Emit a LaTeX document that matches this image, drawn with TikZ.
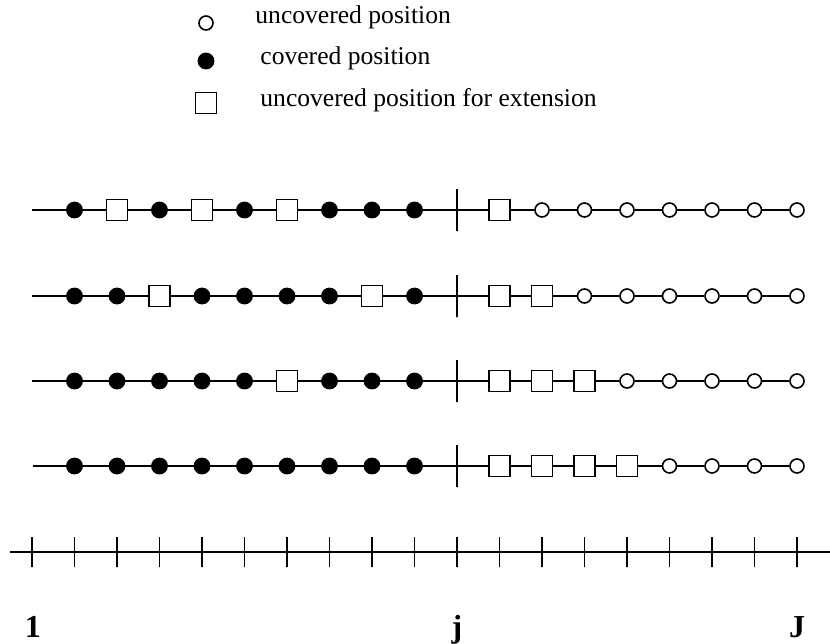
\documentclass[tikz,border=0pt]{standalone}
\usepackage{fontspec}
\setmainfont{Liberation Serif}
\usepackage{tikz}

\begin{document}
\begin{tikzpicture}[x=0.5pt,y=-0.5pt]
        \tikzset{covered/.style = {shape=circle,draw,fill=black,inner sep=0pt,minimum size=8pt}}
        \tikzset{uncovered/.style = {shape=circle,draw,fill=white,line width=0.8pt,inner sep=0pt,minimum size=7pt}}
        \tikzset{extension/.style = {shape=rectangle,draw,fill=white,line width=0.8pt,inner sep=0pt,minimum size=10.5pt}}
        \tikzset{bar/.style = {shape=rectangle,draw,line width=0.9pt,inner sep=0pt,minimum width=0pt,minimum height=21pt}}
        \tikzset{tick/.style = {bar,minimum height=15pt}}
        \tikzset{edge/.style = {line width=0.9pt}}
        \tikzset{legend/.style = {anchor=base west,inner sep=0pt,font=\fontsize{12.8}{15}\selectfont}}
        \tikzset{index/.style = {anchor=base,inner sep=0pt,font=\fontsize{16}{18}\selectfont\bfseries}}
        \useasboundingbox (0,0) rectangle (830,643);
        % legend
        \node[uncovered] (lu) at (206,23) {};
        \node[covered] (lc) at (206,61) {};
        \node[extension] (le) at (206,103) {};
        \node[legend] (lutext) at (255,23) {uncovered position};
        \node[legend] (lctext) at (260,64) {covered position};
        \node[legend] (letext) at (260,106) {uncovered position for extension};
        % row 1
        \coordinate (a0) at (32,210);
        \foreach \t [count=\k] in {covered,extension,covered,extension,covered,extension,covered,covered,covered}
            \node[\t] (a\k) at ({32+42.5*\k},210) {};
        \node[bar] (a10) at (457,210) {};
        \foreach \t [count=\k from 11] in {extension,uncovered,uncovered,uncovered,uncovered,uncovered,uncovered,uncovered}
            \node[\t] (a\k) at ({32+42.5*\k},210) {};
        % row 2
        \coordinate (b0) at (32,296);
        \foreach \t [count=\k] in {covered,covered,extension,covered,covered,covered,covered,extension,covered}
            \node[\t] (b\k) at ({32+42.5*\k},296) {};
        \node[bar] (b10) at (457,296) {};
        \foreach \t [count=\k from 11] in {extension,extension,uncovered,uncovered,uncovered,uncovered,uncovered,uncovered}
            \node[\t] (b\k) at ({32+42.5*\k},296) {};
        % row 3
        \coordinate (c0) at (32,381);
        \foreach \t [count=\k] in {covered,covered,covered,covered,covered,extension,covered,covered,covered}
            \node[\t] (c\k) at ({32+42.5*\k},381) {};
        \node[bar] (c10) at (457,381) {};
        \foreach \t [count=\k from 11] in {extension,extension,extension,uncovered,uncovered,uncovered,uncovered,uncovered}
            \node[\t] (c\k) at ({32+42.5*\k},381) {};
        % row 4
        \coordinate (d0) at (33,466);
        \foreach \t [count=\k] in {covered,covered,covered,covered,covered,covered,covered,covered,covered}
            \node[\t] (d\k) at ({32+42.5*\k},466) {};
        \node[bar] (d10) at (457,466) {};
        \foreach \t [count=\k from 11] in {extension,extension,extension,extension,uncovered,uncovered,uncovered,uncovered}
            \node[\t] (d\k) at ({32+42.5*\k},466) {};
        %edges
        \foreach \r in {a,b,c,d}
            \foreach \k [remember=\k as \p (initially 0)] in {1,...,18}
                \draw[edge] (\r\p) -- (\r\k);
        % axis
        \coordinate (axl) at (10,552);
        \coordinate (axr) at (830,552);
        \draw[edge] (axl) -- (axr);
        \foreach \k in {0,...,18}
            \node[tick] (t\k) at ({32+42.5*\k},552) {};
        \node[index] (first) at (33,637) {1};
        \node[index] (cut) at (457,637) {j};
        \node[index] (last) at (797,637) {J};
    \end{tikzpicture}
\end{document}
